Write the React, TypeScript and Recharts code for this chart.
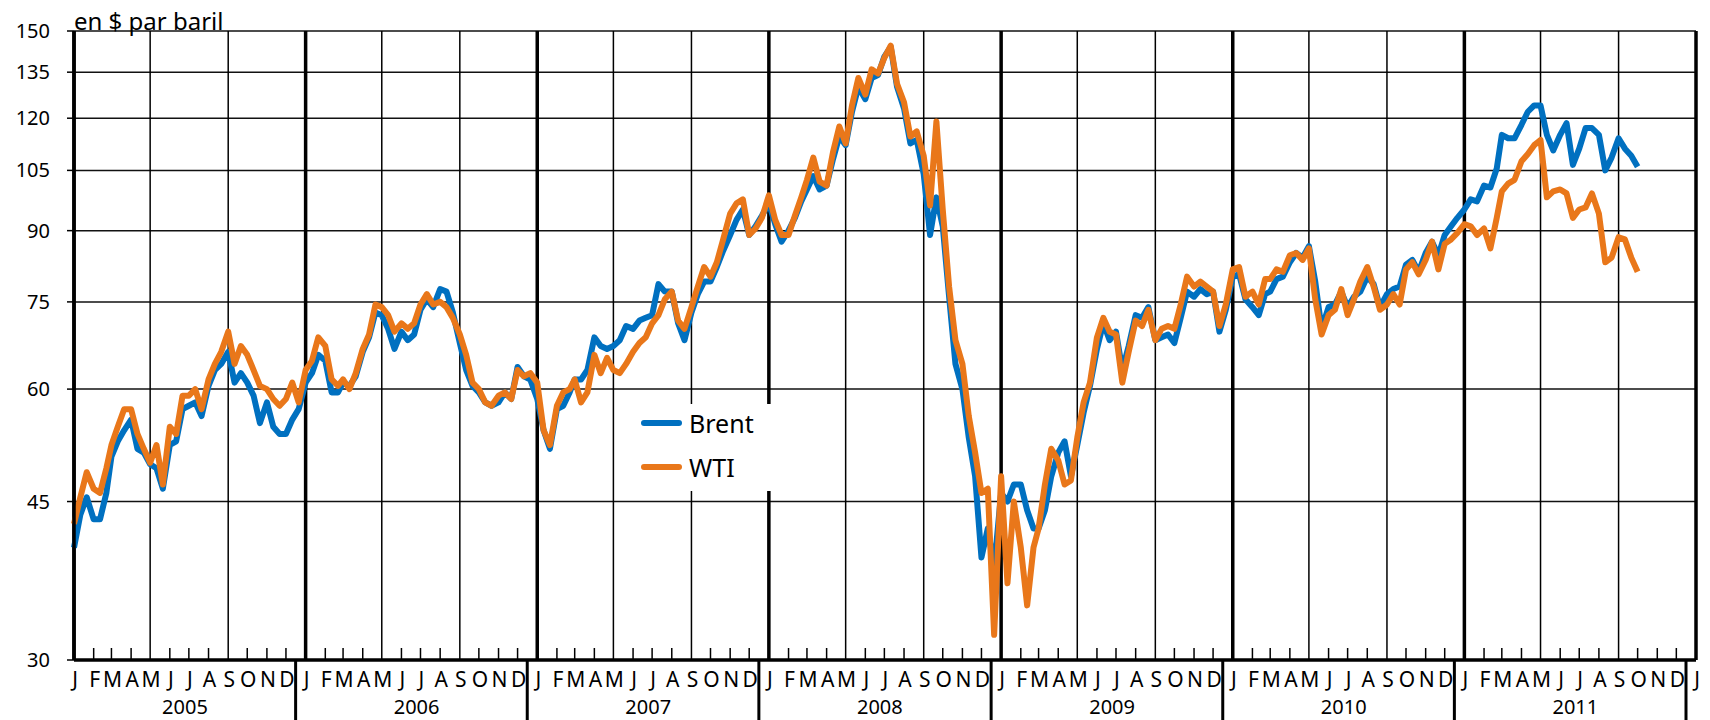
import { CartesianGrid, Legend, Line, LineChart, ReferenceLine, XAxis, YAxis } from "recharts";

const FONT = '"Comic Sans MS", "Noto Sans", sans-serif';

// prices in $ per barrel, read three times a month (1st, 11th, 21st)
const brent2005 = [40, 43.5, 45.5, 43, 43, 46, 50.5, 52.5, 54, 55.5, 51.5, 51, 49.5, 49, 46.5, 52, 52.5, 57, 57.5, 58, 56, 60.5, 63, 64, 66, 61, 62.5, 61, 59, 55, 58, 54.5, 53.5, 53.5, 55.5, 57];
const wti2005 = [42.5, 45.5, 48.5, 46.5, 46, 49, 52, 54.5, 57, 57, 53.5, 51.5, 49.7, 52, 47, 54.5, 53.5, 59, 59, 60, 57, 61.5, 64, 66, 69.5, 64, 67, 65.5, 63, 60.5, 60, 58.5, 57.5, 58.5, 61, 58];

const brent2006 = [61, 62.5, 65.5, 64.5, 59.5, 59.5, 61, 60.5, 62, 66, 68.5, 73, 72.5, 70, 66.5, 69.5, 68, 69, 73.5, 75.5, 74, 77.5, 77, 73, 67.5, 63, 60.5, 59.5, 58, 57.5, 58, 59.5, 58.5, 63.5, 62, 61.5];
const wti2006 = [63, 64.5, 68.5, 67, 61.5, 60.5, 61.5, 60, 62.5, 66.5, 69, 74.5, 74, 72.5, 69.5, 71, 70, 71, 74.5, 76.5, 74.5, 75, 74, 72, 69, 65.5, 61, 60, 58, 57.5, 59, 59.5, 58.5, 63, 62, 62.5];

const brent2007 = [58.5, 54, 51.5, 57, 57.5, 59.5, 61.5, 61.5, 63, 68.5, 67, 66.5, 67, 68, 70.5, 70, 71.5, 72, 72.5, 78.5, 77, 77, 71, 68, 73, 76.5, 79, 79, 82, 85.5, 89, 92.5, 95, 89, 91, 93.5];
const wti2007 = [61, 54, 52, 57.5, 59.5, 60, 61.5, 58, 59.5, 65.5, 62.5, 65, 63, 62.5, 64, 66, 67.5, 68.5, 71, 72.5, 75.5, 77, 71.5, 70, 74, 78, 82, 80, 83, 88, 94, 96.5, 97.5, 89, 90.5, 93];

const brent2008 = [96.5, 91.5, 87.5, 90, 93, 97, 100, 103.5, 100, 101, 108, 114.5, 112, 122, 130, 126, 133, 134, 140.5, 144, 130, 123, 112.5, 113.5, 104, 89, 98, 91, 76, 64, 60, 53, 48, 39, 42, 38];
const wti2008 = [98.5, 92.5, 89, 89, 93.5, 98, 102.5, 108.5, 102, 101, 110, 117.5, 112.5, 124, 133, 127.5, 136, 134.5, 140, 144.5, 131, 125, 114.5, 116, 109, 96, 119, 95, 78, 68, 64, 56, 51, 46, 46.5, 32];

const brent2009 = [46, 45, 47, 47, 44, 42, 42, 44, 48, 51, 52.5, 48, 52, 56.5, 60.5, 66.5, 71, 68, 69.5, 63, 67, 72.5, 72, 74, 68, 68.5, 69, 67.5, 72, 77, 76, 77.5, 76.5, 77, 69.5, 73.5];
const wti2009 = [48, 36.5, 45, 40, 34.5, 40, 42, 47, 51.5, 50, 47, 47.5, 53, 58, 61, 68.5, 72, 69.5, 69, 61, 66, 71.5, 70.5, 73.5, 68, 70, 70.5, 70, 74.5, 80, 78, 79, 78, 77, 70.5, 74.5];

const brent2010 = [80, 80.5, 75.5, 74, 72.5, 76.5, 77, 79.5, 80, 83, 85, 84, 86.5, 79, 70, 74, 74.5, 77, 74, 76, 77, 80, 78.5, 74, 76.5, 77.5, 78, 82.5, 83.5, 81, 85, 87.5, 84.5, 89, 91, 93];
const wti2010 = [81.5, 82, 76, 77, 74.5, 79.5, 79.5, 81.5, 81, 84.5, 85, 83.5, 86, 75.5, 69, 72.5, 73.5, 77.5, 72.5, 75.5, 79, 82, 78, 73.5, 74.5, 76.5, 74.5, 81.5, 83, 80.5, 83.5, 87.5, 81.5, 87, 88, 89.5];

const brent2011 = [95, 97.5, 97, 101, 100.5, 105.5, 115, 114, 114, 118, 122, 124, 124, 115, 110.5, 115, 118.5, 106.5, 111, 117, 117, 115, 105, 108.5, 114, 111, 109, 106];
const wti2011 = [91.5, 91, 89, 90.5, 86, 93, 99.5, 101.5, 102.5, 107.5, 109.5, 112, 113.5, 98, 99.5, 100, 99, 93, 95, 95.5, 99, 94, 83, 84, 88.5, 88, 84, 81];

const years = [2005, 2006, 2007, 2008, 2009, 2010, 2011];
const brentByYear = [brent2005, brent2006, brent2007, brent2008, brent2009, brent2010, brent2011];
const wtiByYear = [wti2005, wti2006, wti2007, wti2008, wti2009, wti2010, wti2011];
const readDays = [1, 11, 21];

const yTicks = [30, 45, 60, 75, 90, 105, 120, 135, 150];
const monthLetters = ["J", "F", "M", "A", "M", "J", "J", "A", "S", "O", "N", "D"];

const data = years.flatMap((yr, k) =>
  brentByYear[k].map((b, i) => ({
    t: Date.UTC(yr, Math.floor(i / 3), readDays[i % 3]),
    brent: b,
    wti: wtiByYear[k][i],
  }))
);

const monthTicks: number[] = [];
years.forEach((yr) => {
  for (let m = 0; m < 12; m++) monthTicks.push(Date.UTC(yr, m, 1));
});
monthTicks.push(Date.UTC(2012, 0, 1));

const gridTicks = monthTicks.filter((t) => new Date(t).getUTCMonth() % 4 === 0);

function MonthTick(props: any) {
  const { x, y, payload } = props;
  const d = new Date(payload.value);
  const m = d.getUTCMonth();
  const yr = d.getUTCFullYear();
  return (
    <g>
      {m % 4 !== 0 && <line x1={x} y1={y} x2={x} y2={y - 12} stroke="#000" strokeWidth={1.5} />}
      <text x={x + 1} y={y + 27} textAnchor="middle" fontSize={21} fontFamily={FONT} fill="#000">
        {monthLetters[m]}
      </text>
      {m === 0 && yr > 2005 && <line x1={x - 10} y1={y} x2={x - 10} y2={y + 60} stroke="#000" strokeWidth={3} />}
      {m === 0 && yr < 2012 && (
        <text x={x + 111} y={y + 54} textAnchor="middle" fontSize={20} fontFamily={FONT} fill="#000">
          {yr}
        </text>
      )}
    </g>
  );
}

function LegendBox({ payload }: any) {
  return (
    <div style={{ width: 142, height: 87, background: "#fff", position: "relative", fontFamily: FONT }}>
      {(payload || []).map((p: any, i: number) => (
        <div
          key={p.value}
          style={{ position: "absolute", left: 0, top: 3 + i * 44, height: 32, display: "flex", alignItems: "center" }}
        >
          <div style={{ marginLeft: 5, width: 41, height: 6, background: p.color, borderRadius: 3 }} />
          <span style={{ marginLeft: 7, fontSize: 25, lineHeight: "32px", color: "#000" }}>{p.value}</span>
        </div>
      ))}
    </div>
  );
}

export default function App() {
  return (
    <div style={{ position: "relative", width: 1700, height: 712 }}>
      <style>{"body{overflow:hidden}"}</style>
      <div style={{ position: "absolute", left: 66, top: 1, fontFamily: FONT, fontSize: 24, lineHeight: "24px", zIndex: 2 }}>
        en $ par baril
      </div>
      <LineChart width={1700} height={712} data={data} margin={{ top: 23, right: 12, bottom: 0, left: 0 }}>
        <CartesianGrid vertical={false} stroke="#111" strokeWidth={1.5} />
        {gridTicks.map((t) => (
          <ReferenceLine
            key={t}
            x={t}
            stroke="#000"
            strokeWidth={new Date(t).getUTCMonth() === 0 ? 3.5 : 1.5}
            zIndex={-50}
          />
        ))}
        <XAxis
          dataKey="t"
          type="number"
          domain={[Date.UTC(2005, 0, 1), Date.UTC(2012, 0, 1)]}
          ticks={monthTicks}
          interval={0}
          height={60}
          tickSize={0}
          tickMargin={0}
          tickLine={false}
          axisLine={{ stroke: "#000", strokeWidth: 3.5 }}
          tick={<MonthTick />}
        />
        <YAxis
          type="number"
          scale="log"
          domain={[30, 150]}
          ticks={yTicks}
          interval={0}
          allowDataOverflow
          width={66}
          tickSize={7}
          tickMargin={17}
          axisLine={{ stroke: "#000", strokeWidth: 3.5 }}
          tickLine={{ stroke: "#000", strokeWidth: 1.5 }}
          tick={{ fill: "#000", fontSize: 20, fontFamily: FONT }}
        />
        <Legend
          layout="horizontal"
          verticalAlign="middle"
          align="center"
          content={<LegendBox />}
          wrapperStyle={{ left: 628, top: 396, width: 142, height: 87 }}
        />
        <Line
          name="Brent"
          dataKey="brent"
          type="linear"
          stroke="#0070C0"
          strokeWidth={6}
          strokeLinejoin="round"
          dot={false}
          isAnimationActive={false}
        />
        <Line
          name="WTI"
          dataKey="wti"
          type="linear"
          stroke="#E9771A"
          strokeWidth={6}
          strokeLinejoin="round"
          dot={false}
          isAnimationActive={false}
        />
      </LineChart>
    </div>
  );
}
